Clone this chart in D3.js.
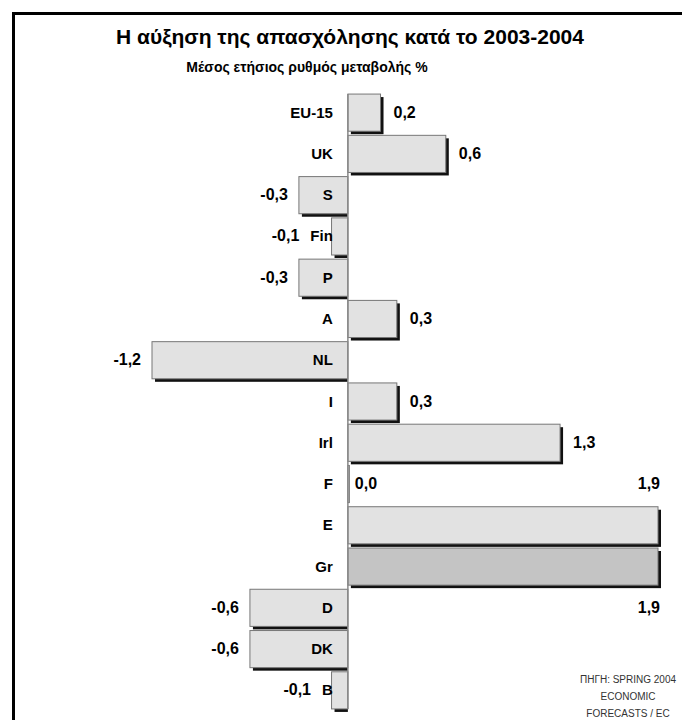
<!DOCTYPE html>
<html>
<head>
<meta charset="utf-8">
<script src="https://cdn.jsdelivr.net/npm/d3@7"></script>
<style>
  html, body { margin: 0; padding: 0; background: #fff; overflow: hidden; }
  svg { display: block; }
  text { font-family: "Liberation Sans Narrow", "Arial Narrow", "Liberation Sans", Arial, sans-serif; font-weight: bold; }
</style>
</head>
<body>
<div id="chart"></div>
<script>
// data
const countries = ["EU-15", "UK", "S", "Fin", "P", "A", "NL", "I", "Irl", "F", "E", "Gr", "D", "DK", "B"];
const growth = [0.2, 0.6, -0.3, -0.1, -0.3, 0.3, -1.2, 0.3, 1.3, 0.0, 1.9, 1.9, -0.6, -0.6, -0.1];
const titleText = "Η αύξηση της απασχόλησης κατά το 2003-2004";
const subtitleText = "Μέσος ετήσιος ρυθμός μεταβολής %";
const sourceLines = ["ΠΗΓΗ: SPRING 2004", "ECONOMIC", "FORECASTS / EC"];

const width = 682, height = 720;
const data = countries.map((c, i) => ({country: c, value: growth[i]}));

const svg = d3.select("#chart")
    .append("svg")
    .attr("width", width)
    .attr("height", height)
    .style("background", "#fff");

// frame: top and left edges, the rest runs off the page
const frame = svg.append("g").attr("class", "frame");
frame.append("rect")
    .attr("x", 12)
    .attr("y", 12)
    .attr("width", width - 12)
    .attr("height", 3)
    .attr("fill", "#000");
frame.append("rect")
    .attr("x", 12)
    .attr("y", 12)
    .attr("width", 3)
    .attr("height", height - 12)
    .attr("fill", "#000");

svg.append("text")
    .attr("x", 350)
    .attr("y", 44)
    .attr("text-anchor", "middle")
    .style("font-size", "21px")
    .text(titleText);

svg.append("text")
    .attr("x", 307)
    .attr("y", 72)
    .attr("text-anchor", "middle")
    .style("font-size", "14px")
    .text(subtitleText);

const x = d3.scaleLinear()
    .domain([-1.2, 1.9])
    .range([152, 658]);

const y = d3.scaleBand()
    .domain(countries)
    .range([92, 711])
    .paddingInner(0.1)
    .paddingOuter(0.05);

const x0 = x(0);
const fmt = v => d3.format(".1f")(v).replace(".", ",").replace("−", "-");

// shadows
svg.selectAll(".shadow")
    .data(data)
    .enter()
    .append("rect")
    .attr("class", "shadow")
    .attr("x", d => Math.min(x(d.value), x0) + 3)
    .attr("y", d => y(d.country) + 3)
    .attr("width", d => d.value >= 0 ? Math.abs(x(d.value) - x0) : Math.max(0, Math.abs(x(d.value) - x0) - 3))
    .attr("height", y.bandwidth())
    .attr("fill", "#111");

// bars
svg.selectAll(".bar")
    .data(data)
    .enter()
    .append("rect")
    .attr("class", "bar")
    .attr("x", d => Math.min(x(d.value), x0))
    .attr("y", d => y(d.country))
    .attr("width", d => Math.max(1.5, Math.abs(x(d.value) - x0)))
    .attr("height", y.bandwidth())
    .attr("fill", d => d.country === "Gr" ? "#c4c4c4" : "#e2e2e2")
    .attr("stroke", "#777")
    .attr("stroke-width", 1);

// zero line
svg.append("line")
    .attr("x1", x0)
    .attr("x2", x0)
    .attr("y1", y.range()[0] + 2)
    .attr("y2", y.range()[1] - 2)
    .attr("stroke", "#888")
    .attr("stroke-width", 1.5);

// category labels
const catLabels = svg.selectAll(".cat")
    .data(data)
    .enter()
    .append("text")
    .attr("class", "cat")
    .attr("x", x0 - 15)
    .attr("y", d => y(d.country) + y.bandwidth() / 2 + 5)
    .attr("text-anchor", "end")
    .style("font-size", "15px")
    .text(d => d.country);

const catLeft = {};
catLabels.each(function(d) {
    catLeft[d.country] = x0 - 15 - this.getComputedTextLength();
});

// value labels; the two equal tallest bars get theirs above / below
const maxVal = d3.max(growth);
let maxSeen = 0;
svg.selectAll(".val")
    .data(data)
    .enter()
    .append("text")
    .attr("class", "val")
    .style("font-size", "16px")
    .each(function(d) {
        const t = d3.select(this);
        const cy = y(d.country) + y.bandwidth() / 2 + 5;
        if (d.value === maxVal) {
            const above = maxSeen === 0;
            maxSeen++;
            t.attr("x", x(d.value) + 2)
             .attr("y", above ? cy - y.step() : cy + y.step())
             .attr("text-anchor", "end");
        } else if (d.value >= 0) {
            t.attr("x", Math.max(x(d.value), x0 + 2) + (d.value > 0 ? 13 : 5))
             .attr("y", cy)
             .attr("text-anchor", "start");
        } else {
            t.attr("x", Math.min(x(d.value), catLeft[d.country]) - 11)
             .attr("y", cy)
             .attr("text-anchor", "end");
        }
    })
    .text(d => fmt(d.value));

// source note
svg.selectAll(".src")
    .data(sourceLines)
    .enter()
    .append("text")
    .attr("class", "src")
    .attr("x", 628)
    .attr("y", (d, i) => 683 + i * 17)
    .attr("text-anchor", "middle")
    .style("font-size", "10px")
    .style("font-weight", "normal")
    .style("fill", "#333")
    .text(d => d);
</script>
</body>
</html>
